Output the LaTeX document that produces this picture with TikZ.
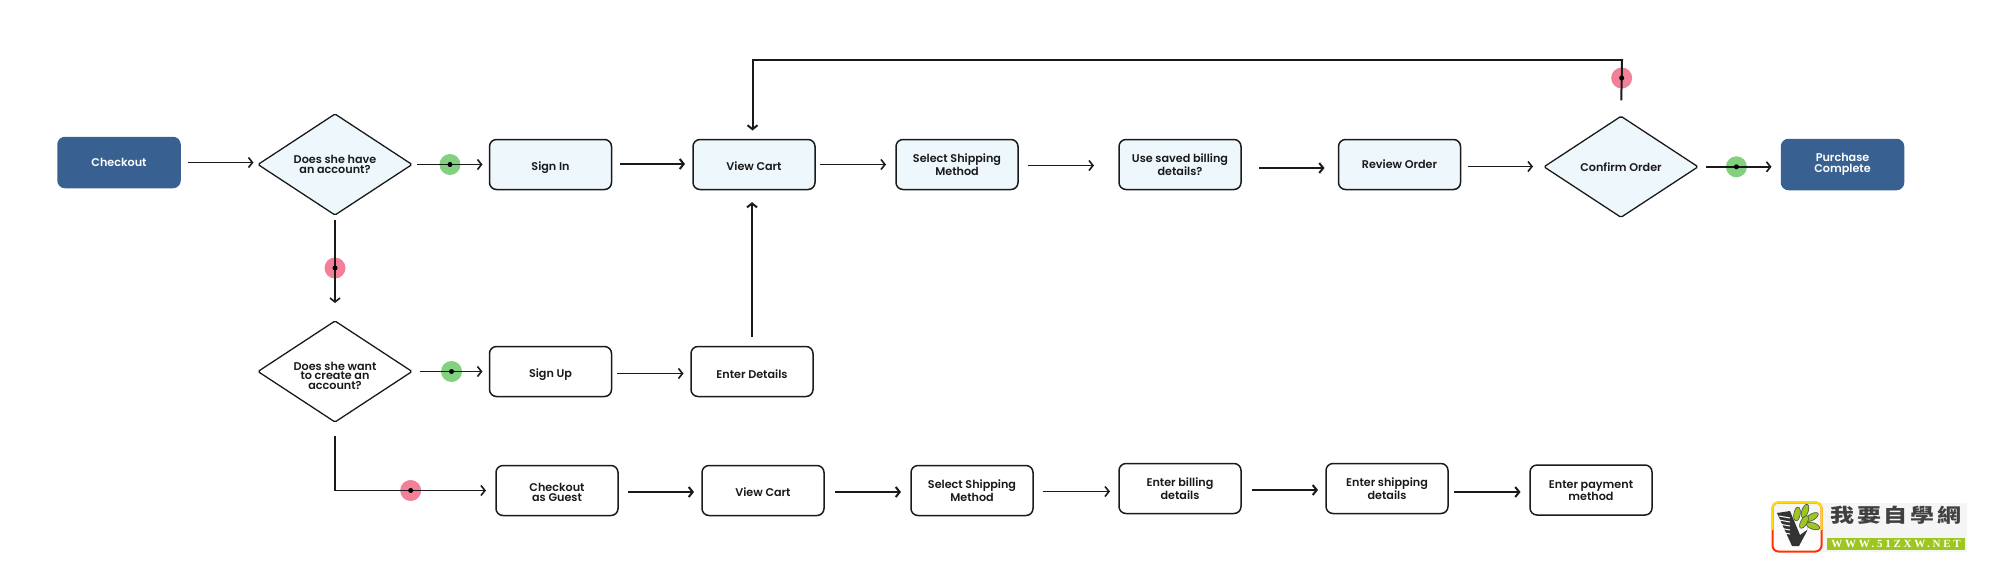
\documentclass[tikz,border=0pt]{standalone}
\usepackage{fontspec}
\setmainfont{Poppins SemiBold}
\newfontfamily\cjkfont{Noto Sans CJK TC}[LetterSpace=12]
\newfontfamily\urlfont{Liberation Serif}[LetterSpace=25]
\usetikzlibrary{positioning,shapes.geometric,arrows.meta}

\definecolor{boxblue}{HTML}{EDF7FC}
\definecolor{endblue}{HTML}{386090}
\definecolor{inkblack}{HTML}{1A1A1A}
\definecolor{yesgreen}{HTML}{82D080}
\definecolor{nored}{HTML}{F38099}
\definecolor{leafgreen}{HTML}{9DC61E}

\tikzset{
  every node/.style={inner sep=0pt,outer sep=0pt,align=center,text=inkblack,
    font=\fontsize{11.2pt}{11pt}\selectfont},
  flowbox/.style={draw=inkblack,line width=1.5pt,rounded corners=7pt,
    minimum width=122pt,minimum height=50pt},
  stepbox/.style={flowbox,fill=boxblue},
  endbox/.style={flowbox,draw=endblue,fill=endblue,text=white},
  choice/.style={diamond,draw=inkblack,line width=1.3pt,rounded corners=1.5pt,aspect=1.52,
    minimum width=154pt,minimum height=101pt},
  tightlines/.style={font=\fontsize{11.2pt}{9.7pt}\selectfont},
  lowone/.style={text height=#1,text depth=0pt},
  lowtwo/.style={text height=21pt,text depth=0pt},
  flowarrow/.style={draw=inkblack,line width=1.6pt,-{Straight Barb[length=4pt,width=10pt]}},
  heavyarrow/.style={flowarrow,line width=2pt},
  yesmark/.style={circle,fill=yesgreen,minimum size=21pt,behind path},
  nomark/.style={circle,fill=nored,minimum size=21pt,behind path},
  markdot/.style={circle,fill=black,minimum size=5pt},
}

\begin{document}
\begin{tikzpicture}[x=1pt,y=1pt]
  \useasboundingbox (0,0) rectangle (2000,-574);

  \node[endbox] (checkout) at (119,-162.5) {Checkout};
  \node[choice,fill=boxblue,tightlines,right=78pt of checkout,yshift=-2pt] (haveacc) {Does she have\\an account?};
  \node[stepbox,lowone=11.5pt,right=77.5pt of haveacc] (signin) {Sign In};
  \node[stepbox,lowone=11.5pt,right=81.5pt of signin] (viewcart) {View Cart};
  \node[stepbox,lowtwo,right=81pt of viewcart] (shipping) {Select Shipping\\Method};
  \node[stepbox,lowtwo,right=101pt of shipping] (saved) {Use saved billing\\details?};
  \node[stepbox,right=97.5pt of saved] (review) {Review Order};
  \node[choice,fill=boxblue,right=83.5pt of review,yshift=-2.3pt] (confirm) {Confirm Order};
  \node[endbox,right=83.5pt of confirm,yshift=2.3pt] (purchase) {Purchase\\Complete};

  \node[choice,tightlines,text height=36pt,text depth=0pt,below=106pt of haveacc] (wantacc) {Does she want\\to create an\\account?};
  \node[flowbox,lowone=12pt,right=77.5pt of wantacc] (signup) {Sign Up};
  \node[flowbox,lowone=13pt,right=79.5pt of signup] (details) {Enter Details};

  \node[flowbox,tightlines,text height=21.5pt,text depth=0pt,below=69pt of signup,xshift=6.5pt] (guest) {Checkout\\as Guest};
  \node[flowbox,lowone=11.5pt,right=84pt of guest] (viewcart2) {View Cart};
  \node[flowbox,lowtwo,right=87pt of viewcart2] (shipping2) {Select Shipping\\Method};
  \node[flowbox,lowtwo,right=86pt of shipping2,yshift=2pt] (billing2) {Enter billing\\details};
  \node[flowbox,lowtwo,right=85pt of billing2] (shipping3) {Enter shipping\\details};
  \node[flowbox,lowtwo,right=82pt of shipping3,yshift=-1.5pt] (payment) {Enter payment\\method};

  \foreach \from/\to/\sa/\sb/\dy/\lw in {checkout/haveacc/8/4.5/0/1.6,signin/viewcart/8/8/0.5/2,
    viewcart/shipping/4.5/10/0/1.6,shipping/saved/10/25/-1/1.6,saved/review/18/14/-3.5/2,
    review/confirm/7/11/-2/1.6,signup/details/5.5/7.5/-2/1.6,guest/viewcart2/10/8/-1.5/2,
    viewcart2/shipping2/11/10/-1.5/2,shipping2/billing2/9.5/9/-1/1.6,billing2/shipping3/11/8/-1.5/2,
    shipping3/payment/6/9.5/-3.5/2} {
    \path (\from.east) ++(0,\dy) coordinate (\from-start);
    \draw[flowarrow,line width=\lw pt,shorten <=\sa pt,shorten >=\sb pt] (\from-start) -- (\from-start -| \to.west);
  }

  \draw[flowarrow,shorten <=5pt,shorten >=7pt] (haveacc.east) -- node[yesmark,pos=.49] (yes1) {} node[markdot,pos=.49] (yes1-dot) {} (signin.west);
  \draw[flowarrow,shorten <=7.5pt,shorten >=7pt] (wantacc.east) -- node[yesmark,pos=.51] (yes2) {} node[markdot,pos=.51] (yes2-dot) {} (signup.west);
  \draw[flowarrow,shorten <=8pt,shorten >=10pt] (confirm.east) -- node[yesmark,pos=.46] (yes3) {} node[markdot,pos=.46] (yes3-dot) {} (confirm.east -| purchase.west);

  \draw[flowarrow,shorten <=5pt,shorten >=18pt] (haveacc.south) -- node[nomark,pos=.5] (no1) {} node[markdot,pos=.5] (no1-dot) {} (wantacc.north);

  \coordinate (guestturn) at (wantacc.south |- guest.west);
  \draw[flowarrow,shorten >=10pt] (guestturn) -- node[nomark,pos=.47] (no2) {} node[markdot,pos=.47] (no2-dot) {} (guest.west);
  \draw[line width=1.6pt,draw=inkblack,shorten <=15pt,line cap=rect] (wantacc.south) -- (guestturn);

  \coordinate (looptop) at (1622,-60);
  \coordinate (cartin) at ([xshift=-1.5pt]viewcart.north);
  \draw[line width=2pt,draw=inkblack,shorten <=17pt,line cap=rect] (confirm.north) -- node[nomark,pos=.68] (no3) {} node[markdot,pos=.68] (no3-dot) {} (looptop);
  \draw[heavyarrow,shorten >=9pt] (looptop) -| (cartin);
  \draw[heavyarrow,shorten <=10pt,shorten >=12.6pt] (details.north) -- (details.north |- viewcart.south);

  % small logo down in the corner
  \fill[black!4] (1822,-503) rectangle (1967,-552);
  \draw[rounded corners=6pt,line width=2pt,top color=black!4,bottom color=white,draw=red!80!yellow] (1772.5,-502.5) rectangle (1821.5,-551.5);
  \draw[rounded corners=6pt,line width=2pt,draw=yellow!90!red] (1772.5,-530) |- (1821.5,-502.5) -- (1821.5,-530);
  \fill[black!80] (1777,-513) -- (1790,-511) -- (1800,-535) -- (1807,-530) -- (1808,-520) -- (1807,-531) -- (1799,-546) -- (1792,-546) -- cycle;
  \foreach \y in {516,520,524,528,532} {
    \draw[white,line width=1pt] (1779,-\y) -- (1790,-\y-2);
  }
  \foreach \x/\y/\ang in {1797/-514/80,1805/-511/70,1812/-517/30,1813/-526/-20,1804/-522/60} {
    \fill[leafgreen,draw=black!70,line width=.6pt,rotate around={\ang:(\x,\y)}] (\x,\y) ellipse (7 and 3.2);
  }
  \node[font=\cjkfont\bfseries\fontsize{24pt}{24pt}\selectfont,yscale=.8,text=black!75] (logotext) at (1896,-515) {我要自學網};
  \node[fill=leafgreen,minimum width=138pt,minimum height=12pt,font=\urlfont\bfseries\fontsize{11pt}{11pt}\selectfont,text=white] (logourl) at (1896,-544) {WWW.51ZXW.NET};
\end{tikzpicture}
\end{document}
